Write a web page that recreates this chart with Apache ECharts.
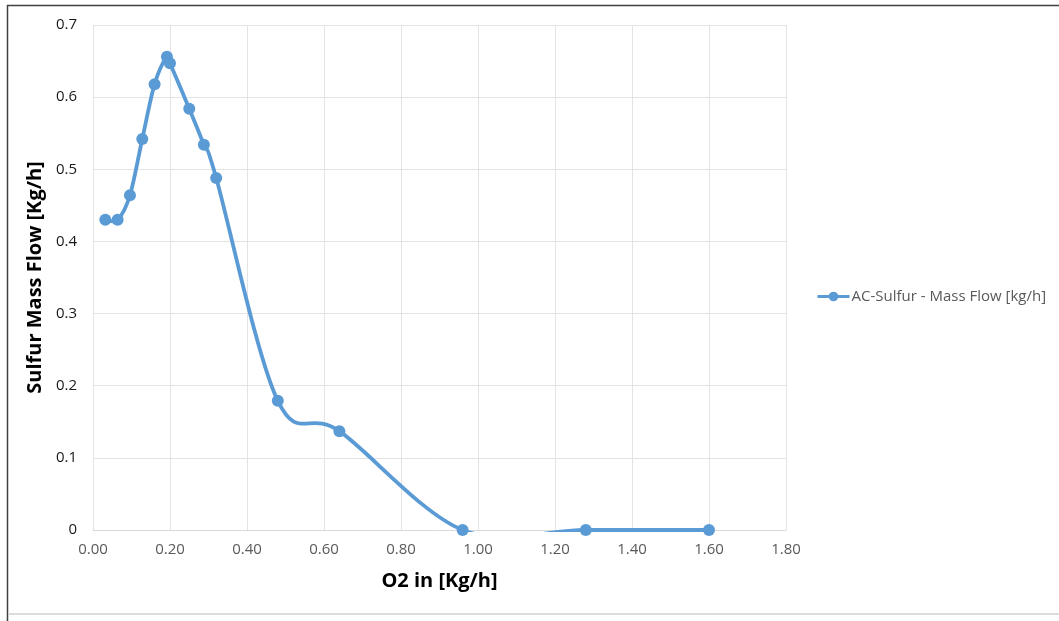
<!DOCTYPE html>
<html>
<head>
<meta charset="utf-8">
<script src="https://cdn.jsdelivr.net/npm/echarts@6/dist/echarts.min.js"></script>
<style>
html,body{margin:0;padding:0;background:#fff;}
#chart{width:1059px;height:621px;}
</style>
</head>
<body>
<div id="chart"></div>
<script>
const seriesName = 'AC-Sulfur - Mass Flow [kg/h]';
const xTitle = 'O2 in [Kg/h]';
const yTitle = 'Sulfur Mass Flow [Kg/h]';
const o2In = [0.032, 0.064, 0.096, 0.128, 0.16, 0.192, 0.2, 0.25, 0.288, 0.32, 0.48, 0.64, 0.96, 1.28, 1.6];
const sulfurFlow = [0.43, 0.43, 0.464, 0.542, 0.618, 0.656, 0.647, 0.584, 0.534, 0.488, 0.179, 0.137, 0, 0, 0];

const font = '"Open Sans", sans-serif';
const COLOR = '#5b9bd5';
const LW = 3.8;
const chart = echarts.init(document.getElementById('chart'), null, {renderer: 'canvas'});

// Excel-like (Catmull-Rom) smoothing drawn through the axis scales
function renderSegment(params, api) {
  const i = params.dataIndex;
  const n = o2In.length;
  if (i >= n - 1) return null;
  const P = j => {
    const c = Math.max(0, Math.min(n - 1, j));
    return api.coord([o2In[c], sulfurFlow[c]]);
  };
  const p0 = P(i - 1), p1 = P(i), p2 = P(i + 1), p3 = P(i + 2);
  const k = 1 / 6;
  const cs = params.coordSys;
  return {
    type: 'group',
    clipPath: {type: 'rect', shape: {x: cs.x - 2, y: cs.y - 2, width: cs.width + 4, height: cs.height + 2 + LW / 2}},
    children: [{
      type: 'bezierCurve',
      shape: {
        x1: p1[0], y1: p1[1], x2: p2[0], y2: p2[1],
        cpx1: p1[0] + (p2[0] - p0[0]) * k, cpy1: p1[1] + (p2[1] - p0[1]) * k,
        cpx2: p2[0] - (p3[0] - p1[0]) * k, cpy2: p2[1] - (p3[1] - p1[1]) * k
      },
      style: {stroke: COLOR, lineWidth: LW, fill: null, lineCap: 'round'}
    }]
  };
}

chart.setOption({
  animation: false,
  backgroundColor: '#fff',
  textStyle: {fontFamily: font},
  grid: {left: 93, right: 273, top: 25, bottom: 91, containLabel: false},
  legend: {
    show: true,
    left: 811, top: 284,
    itemWidth: 32, itemHeight: 12, itemGap: 4,
    textStyle: {fontFamily: font, fontSize: 15, color: '#595959', padding: [0, 0, 0, -3]},
    lineStyle: {color: COLOR, width: 3, opacity: 1},
    data: [seriesName]
  },
  xAxis: {
    type: 'value', min: 0, max: 1.8, interval: 0.2,
    name: xTitle, nameLocation: 'middle', nameGap: 41,
    nameTextStyle: {fontFamily: font, fontSize: 20, fontWeight: 'bold', color: '#000'},
    axisLine: {show: true, lineStyle: {color: '#d9d9d9', width: 1}},
    axisTick: {show: false},
    axisLabel: {margin: 12, fontSize: 15, color: '#595959', formatter: v => v.toFixed(2)},
    splitLine: {show: true, lineStyle: {color: '#e3e3e3', width: 1}}
  },
  yAxis: {
    type: 'value', min: 0, max: 0.7, interval: 0.1,
    name: yTitle, nameLocation: 'middle', nameGap: 45, nameRotate: 90,
    nameTextStyle: {fontFamily: font, fontSize: 20, fontWeight: 'bold', color: '#000'},
    axisLine: {show: false},
    axisTick: {show: false},
    axisLabel: {margin: 16, fontSize: 15, color: '#1a1a1a', formatter: v => String(Math.round(v * 10) / 10)},
    splitLine: {show: true, lineStyle: {color: '#e3e3e3', width: 1}}
  },
  series: [{
    name: 'curve',
    type: 'custom',
    clip: false,
    silent: true,
    z: 2,
    renderItem: renderSegment,
    data: o2In.map((x, i) => [x, sulfurFlow[i]])
  }, {
    name: seriesName,
    type: 'line',
    z: 3,
    data: o2In.map((x, i) => [x, sulfurFlow[i]]),
    symbol: 'circle', symbolSize: 12,
    lineStyle: {color: COLOR, width: 3, opacity: 0},
    itemStyle: {color: COLOR}
  }],
  graphic: [
    {type: 'line', shape: {x1: 7, y1: 5.5, x2: 1059, y2: 5.5}, style: {stroke: '#404040', lineWidth: 1.5}},
    {type: 'line', shape: {x1: 7.5, y1: 5, x2: 7.5, y2: 621}, style: {stroke: '#404040', lineWidth: 1.5}},
    {type: 'line', shape: {x1: 8, y1: 614, x2: 1059, y2: 614}, style: {stroke: '#d0d0d0', lineWidth: 1.5}}
  ]
});
</script>
</body>
</html>
